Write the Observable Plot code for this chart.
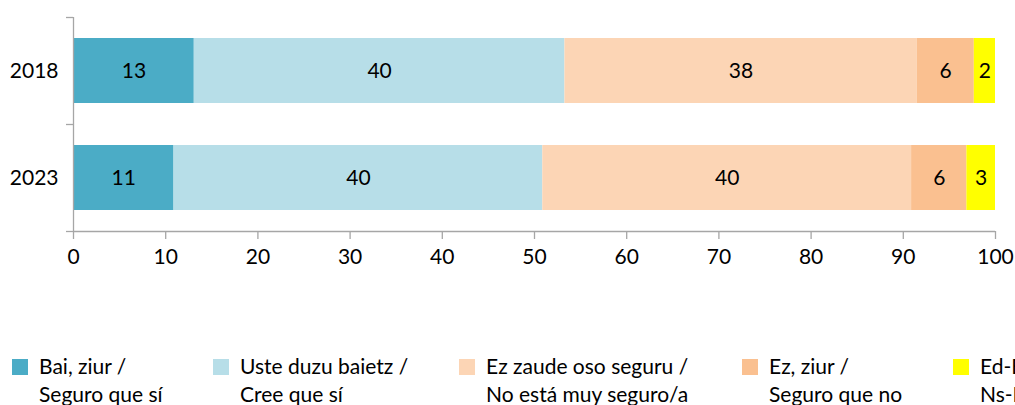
<!DOCTYPE html>
<html>
<head>
<meta charset="utf-8">
<script src="https://cdn.jsdelivr.net/npm/d3@7"></script>
<script src="https://cdn.jsdelivr.net/npm/@observablehq/plot@0.6"></script>
<style>
  html, body { margin: 0; padding: 0; background: #fff; overflow: hidden; width: 1015px; height: 405px; }
  #wrap { position: relative; width: 1015px; height: 405px; font-family: Lato, sans-serif; }
  #legend { position: absolute; left: 12px; top: 352px; display: grid;
            grid-template-columns: 201px 246px 283px 211px 200px; font-size: 21px; line-height: 28px; color: #000; }
  .item { position: relative; padding-left: 27px; white-space: nowrap; }
  .sw { position: absolute; left: 0; top: 7px; width: 16px; height: 16px; }
</style>
</head>
<body>
<div id="wrap"><div id="chart"></div><div id="legend"></div></div>
<script>
const years = ["2018", "2023"];
const categories = [
  "Bai, ziur /\nSeguro que sí",
  "Uste duzu baietz /\nCree que sí",
  "Ez zaude oso seguru /\nNo está muy seguro/a",
  "Ez, ziur /\nSeguro que no",
  "Ed-Ee /\nNs-Nc"
];
const values2018 = [13.1, 40.2, 38.2, 6.2, 2.3];
const values2023 = [10.9, 40.0, 40.0, 6.0, 3.1];
const colors = ["#4BACC6", "#B7DEE8", "#FCD5B5", "#FAC090", "#FFFF00"];
const xTicks = [0, 10, 20, 30, 40, 50, 60, 70, 80, 90, 100];

const series = [values2018, values2023];
const data = years.flatMap((y, i) => categories.map((c, j) => ({year: y, cat: c, value: series[i][j]})));

const W = 1015, H = 290, mT = 17, mB = 59, mL = 73, mR = 20;
const step = (H - mT - mB) / years.length;
const axisColor = "#a6a6a6";

const plot = Plot.plot({
  width: W, height: H,
  marginTop: mT, marginBottom: mB, marginLeft: mL, marginRight: mR,
  style: {fontFamily: "Lato, sans-serif", fontSize: "21px", color: "#000", background: "#fff"},
  x: {domain: [0, 100], ticks: xTicks, label: null},
  y: {domain: years, paddingInner: 0.392, paddingOuter: 0.196, label: null},
  color: {domain: categories, range: colors},
  marks: [
    Plot.barX(data, Plot.stackX({x: "value", y: "year", fill: "cat", z: "cat", order: categories})),
    Plot.text(data, Plot.stackX({x: "value", y: "year", z: "cat", order: categories,
      text: d => String(Math.round(d.value)), fill: "#000", fontSize: 21})),
    Plot.ruleX([0], {stroke: axisColor, strokeWidth: 1.3}),
    Plot.ruleY(years, {y: d => d, x1: -0.76, x2: 0, dy: -step / 2, stroke: axisColor, strokeWidth: 1.3}),
    Plot.ruleY(years.slice(-1), {y: d => d, x1: -0.76, x2: 0, dy: step / 2, stroke: axisColor, strokeWidth: 1.3}),
    Plot.axisY({tickSize: 0, tickPadding: 15, fontSize: 21, label: null}),
    Plot.axisX({ticks: xTicks, tickSize: 8, tickPadding: 10, fontSize: 21, stroke: axisColor, strokeWidth: 1.3, label: null}),
    Plot.ruleY([years[years.length - 1]], {x1: 0, x2: 100, dy: step / 2, stroke: axisColor, strokeWidth: 1.3})
  ]
});
document.getElementById("chart").appendChild(plot);

const legend = document.getElementById("legend");
categories.forEach((c, i) => {
  const item = document.createElement("div");
  item.className = "item";
  const sw = document.createElement("div");
  sw.className = "sw";
  sw.style.background = colors[i];
  item.appendChild(sw);
  c.split("\n").forEach(line => {
    const d = document.createElement("div");
    d.textContent = line;
    item.appendChild(d);
  });
  legend.appendChild(item);
});
</script>
</body>
</html>
